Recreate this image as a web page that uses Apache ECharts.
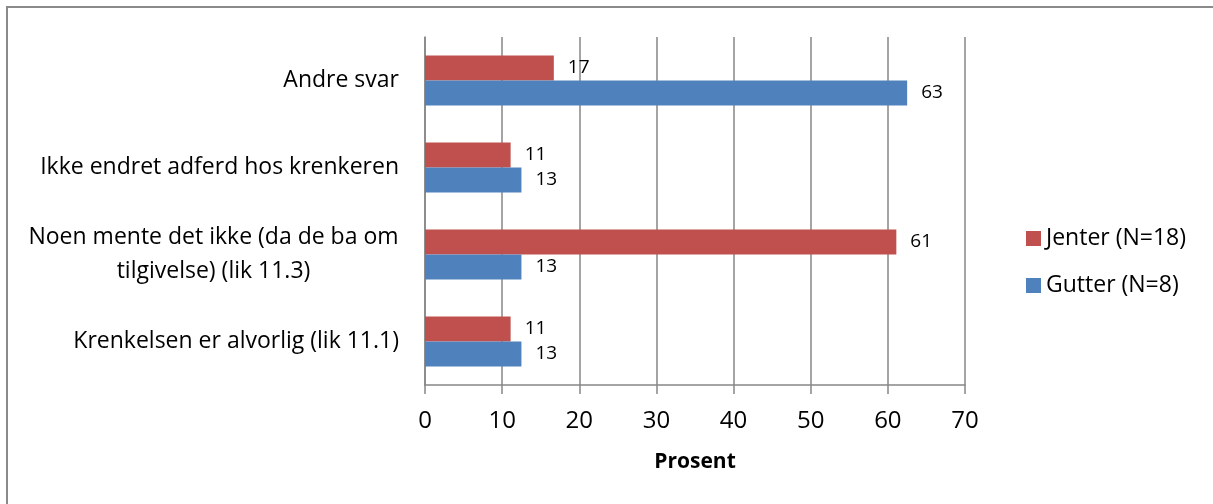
<!DOCTYPE html>
<html>
<head>
<meta charset="utf-8">
<script src="https://cdn.jsdelivr.net/npm/echarts@6/dist/echarts.min.js"></script>
<style>
  html, body { margin: 0; padding: 0; background: #fff; overflow: hidden; }
  #frame { position: absolute; left: 6px; top: 6px; width: 1260px; height: 560px; border: 2px solid #8a8a8a; box-sizing: border-box; }
  #chart { position: absolute; left: 0; top: 0; width: 1213px; height: 504px; }
</style>
</head>
<body>
<div id="frame"></div>
<div id="chart"></div>
<script>
const categories = [
  'Krenkelsen er alvorlig (lik 11.1)',
  'Noen mente det ikke (da de ba om\ntilgivelse) (lik 11.3)',
  'Ikke endret adferd hos krenkeren',
  'Andre svar'
];
const seriesNames = ['Jenter (N=18)', 'Gutter (N=8)'];
const jenter = [11.1, 61.1, 11.1, 16.7];
const gutter = [12.5, 12.5, 12.5, 62.5];
const xTicks = [0, 10, 20, 30, 40, 50, 60, 70];
const axisTitle = 'Prosent';

const FONT = '"Open Sans", "Noto Sans", sans-serif';
const GRID = '#868686';
const CAT_SIZE = 23;

function textWidth(s, size) {
  const ctx = document.createElement('canvas').getContext('2d');
  ctx.font = size + 'px "Open Sans"';
  return ctx.measureText(s).width;
}
const multiWidth = Math.ceil(Math.max(...categories.filter(c => c.indexOf('\n') >= 0)
  .map(c => Math.max(...c.split('\n').map(l => textWidth(l, CAT_SIZE))))));

const chart = echarts.init(document.getElementById('chart'), null, { renderer: 'canvas' });

const labelCfg = {
  show: true,
  position: 'right',
  distance: 14,
  color: '#000',
  fontFamily: FONT,
  fontSize: 19,
  formatter: p => String(Math.round(p.value))
};

chart.setOption({
  animation: false,
  backgroundColor: 'transparent',
  textStyle: { fontFamily: FONT },
  grid: { left: 425, right: 248, top: 37, bottom: 119, containLabel: false },
  legend: {
    data: ['Jenter (N=18)', 'Gutter (N=8)'],
    orient: 'vertical',
    left: 1021,
    top: 222,
    itemWidth: 15,
    itemHeight: 15,
    itemGap: 24,
    icon: 'rect',
    textStyle: { fontFamily: FONT, fontSize: 23, color: '#000' }
  },
  xAxis: {
    type: 'value',
    min: xTicks[0],
    max: xTicks[xTicks.length - 1],
    interval: 10,
    name: axisTitle,
    nameLocation: 'middle',
    nameGap: 67,
    nameTextStyle: { fontFamily: FONT, fontSize: 21, fontWeight: 'bold', color: '#000' },
    axisLine: { show: true, lineStyle: { color: GRID, width: 1.5 } },
    axisTick: { show: true, length: 9, lineStyle: { color: GRID, width: 1.5 } },
    axisLabel: { fontFamily: FONT, fontSize: 24, color: '#000', margin: 24 },
    splitLine: { show: true, lineStyle: { color: GRID, width: 1.5 } }
  },
  yAxis: {
    type: 'category',
    data: categories,
    axisLine: { show: true, lineStyle: { color: GRID, width: 1.5 } },
    axisTick: { show: false },
    axisLabel: {
      fontFamily: FONT,
      fontSize: CAT_SIZE,
      color: '#000',
      margin: 26,
      formatter: v => v.indexOf('\n') >= 0 ? '{c|' + v + '}' : v,
      rich: {
        c: { fontFamily: FONT, fontSize: CAT_SIZE, color: '#000', width: multiWidth, align: 'center', lineHeight: 34 }
      }
    }
  },
  series: [
    {
      name: seriesNames[0],
      type: 'bar',
      data: jenter,
      barWidth: 25,
      barGap: '0%',
      itemStyle: { color: '#C0504D' },
      label: labelCfg
    },
    {
      name: seriesNames[1],
      type: 'bar',
      data: gutter,
      barWidth: 25,
      barGap: '0%',
      itemStyle: { color: '#4F81BD' },
      label: labelCfg
    }
  ]
});
</script>
</body>
</html>
